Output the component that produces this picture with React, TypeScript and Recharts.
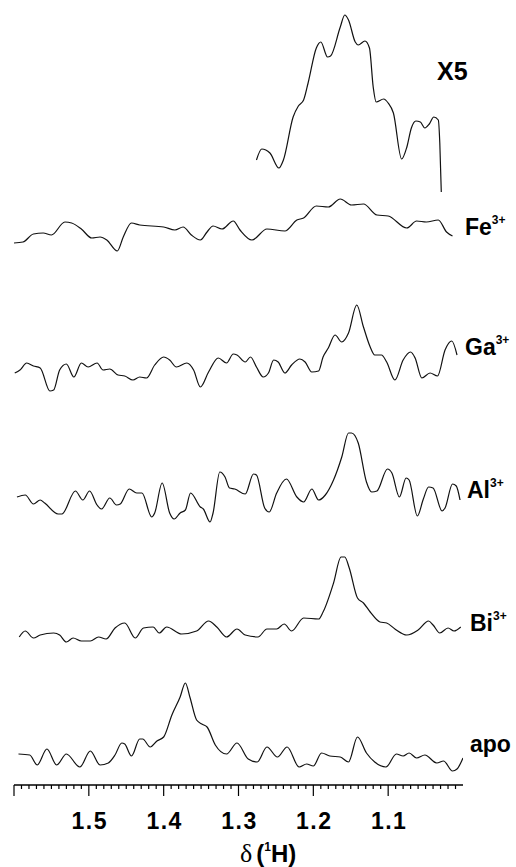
import React from "react";
import { LineChart, Line, XAxis, YAxis } from "recharts";

// chemical shift axis (ppm), drawn high -> low
const ppmTicks = Array.from({ length: 60 }, (_, i) => +(1.6 - i * 0.01).toFixed(2));
const majorTicks = [1.6, 1.5, 1.4, 1.3, 1.2, 1.1];
const labelledTicks = [1.5, 1.4, 1.3, 1.2, 1.1];

// [ppm, intensity] pairs
const apo = [
  [1.594, 0.2], [1.579, 0.1], [1.569, -0.9], [1.556, 0.7], [1.543, -0.9], [1.53, 0.2],
  [1.512, -1.1], [1.498, 0.5], [1.485, -0.9], [1.474, -0.7], [1.465, 0.1], [1.456, 1.3],
  [1.452, 1.2], [1.443, 0.0], [1.432, 1.7], [1.428, 1.7], [1.418, 0.9], [1.409, 1.5],
  [1.4, 1.9], [1.389, 4.1], [1.378, 5.9], [1.371, 7.3], [1.365, 5.9], [1.356, 3.6],
  [1.349, 3.2], [1.342, 2.9], [1.331, 1.1], [1.316, 0.2], [1.302, 1.3], [1.287, -0.3],
  [1.275, -0.6], [1.262, 0.9], [1.248, -0.1], [1.235, 0.9], [1.219, -1.1], [1.209, -0.8],
  [1.2, -1.0], [1.189, 0.3], [1.178, 0.0], [1.164, -0.1], [1.153, -0.6], [1.141, 1.9],
  [1.129, 0.3], [1.118, -0.6], [1.103, -1.1], [1.089, 0.2], [1.08, 0.0], [1.072, 0.3],
  [1.062, -0.2], [1.051, 0.1], [1.035, -0.7], [1.026, -0.5], [1.014, -1.5], [1.008, -1.3],
  [1.0, -0.2],
];

const bi = [
  [1.593, -0.4], [1.585, 0.2], [1.574, -0.5], [1.565, -0.2], [1.547, 0.0], [1.539, -0.2],
  [1.53, -0.9], [1.521, -0.5], [1.51, -0.8], [1.498, -0.8], [1.487, -0.4], [1.477, -0.6],
  [1.465, 0.5], [1.452, 1.0], [1.438, -0.5], [1.427, 0.5], [1.414, 0.6], [1.406, 0.0],
  [1.396, 0.6], [1.376, -0.1], [1.356, 0.2], [1.34, 1.2], [1.329, 0.6], [1.316, -0.4],
  [1.302, 0.4], [1.291, -0.2], [1.274, -0.4], [1.262, 0.4], [1.249, 0.4], [1.239, 0.9],
  [1.229, 0.2], [1.213, 1.5], [1.193, 1.4], [1.187, 2.1], [1.173, 5.0], [1.163, 7.6],
  [1.158, 7.6], [1.152, 6.5], [1.141, 3.5], [1.133, 3.0], [1.124, 2.1], [1.111, 1.1],
  [1.102, 1.0], [1.091, 0.4], [1.075, -0.2], [1.06, 0.3], [1.046, 1.2], [1.04, 0.8],
  [1.031, 0.0], [1.02, 0.5], [1.012, 0.2], [1.003, 0.6],
];

const al = [
  [1.596, 0.3], [1.585, 0.5], [1.574, -0.4], [1.565, 0.0], [1.559, -0.3], [1.541, -1.4],
  [1.536, -1.4], [1.518, 0.9], [1.508, 0.0], [1.499, 0.9], [1.489, -0.5], [1.483, -0.9],
  [1.472, 0.2], [1.463, -0.5], [1.458, -0.4], [1.446, 1.1], [1.436, 0.7], [1.429, 0.7],
  [1.416, -1.7], [1.412, -1.3], [1.402, 1.7], [1.392, -1.3], [1.386, -1.9], [1.378, -1.3],
  [1.371, -1.0], [1.364, 0.7], [1.351, -0.7], [1.347, -0.9], [1.338, -2.2], [1.334, -1.3],
  [1.325, 2.8], [1.318, 2.3], [1.312, 1.2], [1.305, 1.1], [1.291, 0.6], [1.28, 2.6],
  [1.276, 2.5], [1.265, -0.8], [1.259, -1.2], [1.249, 0.7], [1.236, 2.1], [1.222, 0.3],
  [1.213, -0.2], [1.202, 1.1], [1.193, 0.0], [1.184, 0.5], [1.173, 2.0], [1.162, 4.3],
  [1.153, 6.7], [1.149, 6.7], [1.14, 5.7], [1.129, 1.8], [1.122, 0.8], [1.115, 0.9],
  [1.101, 3.1], [1.095, 2.7], [1.085, 0.3], [1.076, 2.2], [1.072, 2.0], [1.061, -1.6],
  [1.053, 0.1], [1.046, 1.3], [1.04, 1.2], [1.028, -1.1], [1.024, -0.8], [1.014, 1.6],
  [1.009, 1.4], [1.004, 0.0],
];

const ga = [
  [1.599, -0.5], [1.592, -0.2], [1.583, 0.5], [1.574, 0.2], [1.565, 0.0], [1.552, -2.3],
  [1.547, -2.2], [1.539, -0.2], [1.53, 0.4], [1.52, -0.9], [1.51, 0.5], [1.501, 0.1],
  [1.489, 0.5], [1.481, -0.2], [1.472, -0.1], [1.461, -0.7], [1.452, -0.8], [1.441, -1.2],
  [1.432, -0.9], [1.423, -1.0], [1.412, 0.3], [1.4, 1.1], [1.392, 0.8], [1.383, 0.1],
  [1.369, 0.5], [1.36, -0.2], [1.351, -1.9], [1.34, -0.4], [1.327, 1.0], [1.316, 0.5],
  [1.307, 1.4], [1.302, 1.3], [1.291, 0.6], [1.284, 1.1], [1.276, 0.1], [1.267, -0.9],
  [1.26, -0.5], [1.253, 0.8], [1.247, 0.6], [1.238, -0.5], [1.229, 0.3], [1.218, 0.9],
  [1.211, 0.6], [1.202, -0.4], [1.193, -0.3], [1.187, 1.1], [1.18, 2.0], [1.171, 3.3],
  [1.162, 2.6], [1.153, 3.5], [1.142, 6.3], [1.133, 4.1], [1.124, 2.1], [1.118, 1.3],
  [1.109, 1.3], [1.102, 0.6], [1.091, -1.2], [1.08, 0.8], [1.07, 1.6], [1.064, 1.0],
  [1.055, -1.0], [1.044, -0.5], [1.034, -0.8], [1.024, 1.8], [1.015, 2.7], [1.008, 1.3],
];

const fe = [
  [1.6, -1.1], [1.588, -1.0], [1.574, -0.2], [1.561, -0.1], [1.55, -0.3], [1.532, 1.0],
  [1.523, 0.9], [1.51, 0.3], [1.496, -0.6], [1.485, -0.5], [1.476, -0.8], [1.462, -1.9],
  [1.454, -0.5], [1.443, 0.9], [1.432, 0.7], [1.4, 0.5], [1.385, 0.2], [1.374, 0.5],
  [1.363, -0.3], [1.351, -0.8], [1.342, 0.0], [1.334, 0.6], [1.322, 0.3], [1.307, 1.1],
  [1.298, 0.2], [1.282, -0.8], [1.262, 0.3], [1.238, 0.1], [1.222, 1.2], [1.213, 1.4],
  [1.196, 2.6], [1.18, 2.5], [1.164, 3.3], [1.149, 2.7], [1.133, 2.8], [1.115, 1.7],
  [1.1, 1.6], [1.075, 0.4], [1.062, 1.1], [1.049, 1.0], [1.033, 1.2], [1.022, 0.0],
  [1.014, -0.4],
];

// Fe3+ region 1.28-1.03 ppm, vertical x5
const feX5 = [
  [1.276, 0.0], [1.269, 1.1], [1.258, 0.7], [1.246, -0.8], [1.24, 0.0], [1.227, 4.3],
  [1.22, 5.4], [1.213, 6.0], [1.207, 7.7], [1.196, 11.2], [1.19, 11.8], [1.181, 10.3],
  [1.177, 10.4], [1.164, 13.3], [1.158, 14.5], [1.153, 14.0], [1.144, 11.8], [1.14, 11.5],
  [1.131, 11.9], [1.125, 11.2], [1.12, 7.3], [1.116, 5.8], [1.106, 6.1], [1.1, 5.7],
  [1.093, 4.7], [1.082, 0.1], [1.075, 1.3], [1.069, 3.2], [1.063, 3.9], [1.057, 3.8],
  [1.051, 3.2], [1.045, 3.6], [1.039, 4.3], [1.033, 4.0], [1.031, 1.7], [1.029, -3.2],
];

const traces = [
  { key: "apo", points: apo, offset: 2.9 },
  { key: "bi", points: bi, offset: 15.2 },
  { key: "al", points: al, offset: 28.5 },
  { key: "ga", points: ga, offset: 41.7 },
  { key: "fe", points: fe, offset: 55.3 },
  { key: "feX5", points: feX5, offset: 62.5 },
];

const sans = "'Liberation Sans', Arial, Helvetica, sans-serif";

const PpmTick = (props: any) => {
  const { x, y, payload } = props;
  const v = Math.round(payload.value * 100) / 100;
  const major = majorTicks.includes(v);
  return (
    <g>
      <line x1={x} x2={x} y1={y} y2={y + (major ? 11 : 4)} stroke="#000" strokeWidth={1.2} />
      {labelledTicks.includes(v) && (
        <text
          x={x + 1}
          y={y + 44}
          textAnchor="middle"
          fontFamily={sans}
          fontWeight="bold"
          fontSize={23}
          letterSpacing={1.5}
          fill="#000"
        >
          {v.toFixed(1)}
        </text>
      )}
    </g>
  );
};

const SpectrumLabel = ({ x, y, name, sup }: { x: number; y: number; name: string; sup?: string }) => (
  <text x={x} y={y} fontFamily={sans} fontWeight="bold" fontSize={23} fill="#000">
    {name}
    {sup && (
      <tspan fontSize={12} dy={-11}>
        {sup}
      </tspan>
    )}
  </text>
);

export default function App() {
  return (
    <div style={{ position: "absolute", left: 0, top: 0, width: 516, height: 867, background: "#fff" }}>
      <LineChart width={516} height={867} margin={{ top: 0, right: 53, bottom: 0, left: 14 }}>
        <XAxis
          type="number"
          dataKey="ppm"
          domain={[1.0, 1.6]}
          reversed
          allowDataOverflow
          ticks={ppmTicks}
          interval={0}
          tickSize={0}
          tickMargin={0}
          height={82}
          axisLine={{ stroke: "#000", strokeWidth: 1.4 }}
          tickLine={false}
          tick={<PpmTick />}
        />
        <YAxis type="number" domain={[0, 78.5]} hide allowDataOverflow />
        {traces.map((t) => (
          <Line
            key={t.key}
            data={t.points.map(([ppm, i]) => ({ ppm, v: t.offset + i }))}
            dataKey="v"
            type="monotone"
            stroke="#111"
            strokeWidth={1.2}
            dot={false}
            activeDot={false}
            isAnimationActive={false}
          />
        ))}
      </LineChart>
      <svg width={516} height={867} style={{ position: "absolute", left: 0, top: 0, pointerEvents: "none" }}>
        <text x={437} y={80} fontFamily={sans} fontWeight="bold" fontSize={25} fill="#000">
          X5
        </text>
        <SpectrumLabel x={465} y={235} name="Fe" sup="3+" />
        <SpectrumLabel x={465} y={355} name="Ga" sup="3+" />
        <SpectrumLabel x={467} y={498} name="Al" sup="3+" />
        <SpectrumLabel x={470} y={631} name="Bi" sup="3+" />
        <SpectrumLabel x={470} y={752} name="apo" />
        <text x={240} y={862} fill="#000">
          <tspan fontFamily="'Liberation Serif', 'Times New Roman', serif" fontSize={26}>
            δ
          </tspan>
          <tspan fontFamily={sans} fontWeight="bold" fontSize={24} dx={4}>
            (
          </tspan>
          <tspan fontFamily={sans} fontWeight="bold" fontSize={12} dy={-11}>
            1
          </tspan>
          <tspan fontFamily={sans} fontWeight="bold" fontSize={24} dy={11}>
            H)
          </tspan>
        </text>
      </svg>
    </div>
  );
}
